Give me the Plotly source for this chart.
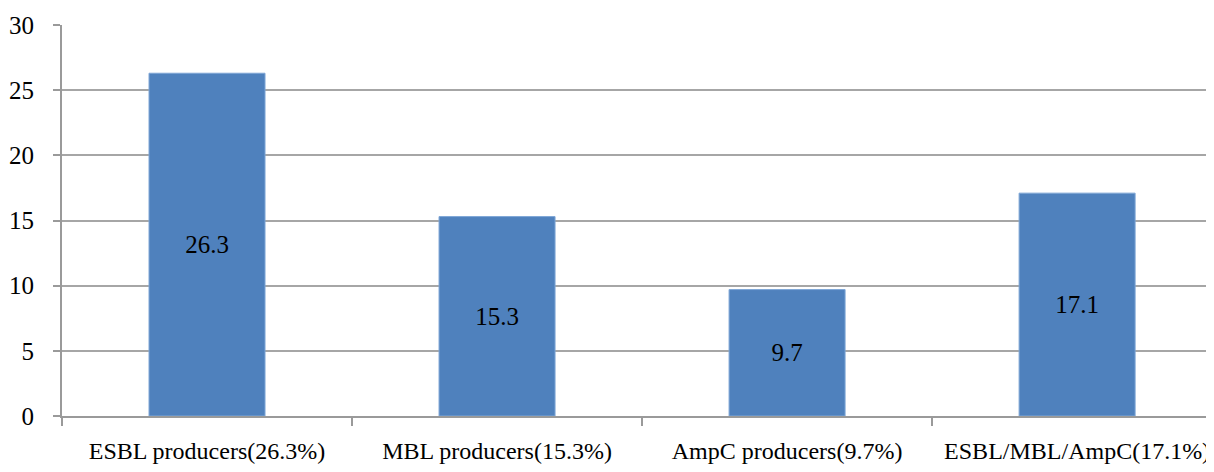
import plotly.graph_objects as go

categories = ["ESBL producers(26.3%)", "MBL producers(15.3%)", "AmpC producers(9.7%)", "ESBL/MBL/AmpC(17.1%)"]
values = [26.3, 15.3, 9.7, 17.1]
value_labels = ["26.3", "15.3", "9.7", "17.1"]
y_ticks = [0, 5, 10, 15, 20, 25, 30]

font_family = "Liberation Serif, Times New Roman, serif"

fig = go.Figure(go.Bar(
    x=categories, y=values, text=value_labels,
    textposition="inside", insidetextanchor="middle",
    textfont=dict(family=font_family, size=25, color="black"),
    marker=dict(color="#4F81BD", line=dict(color="#7EA6D6", width=1)),
    width=0.4,
))

fig.update_layout(
    width=1206, height=464,
    margin=dict(l=54, r=0, t=17, b=56),
    paper_bgcolor="white", plot_bgcolor="white",
    showlegend=False,
    font=dict(family=font_family, size=25, color="black"),
    xaxis=dict(
        range=[-0.5, 3.472], showgrid=False, automargin=False,
        showline=True, linecolor="#9A9A9A", linewidth=2,
        ticks="outside", tickson="boundaries", ticklen=8, tickcolor="#9A9A9A", tickwidth=2,
        ticklabelstandoff=12,
        tickfont=dict(family=font_family, size=24, color="black"),
    ),
    yaxis=dict(
        range=[0, 30], tickvals=y_ticks, showgrid=True, gridcolor="#A6A6A6", gridwidth=2,
        showline=True, linecolor="#9A9A9A", linewidth=2, zeroline=False,
        ticks="outside", ticklen=7, tickcolor="#9A9A9A", tickwidth=2,
        ticklabelstandoff=14, automargin=False,
        tickfont=dict(family=font_family, size=25, color="black"),
    ),
    bargap=0.6,
)

fig.write_html("out.html")
